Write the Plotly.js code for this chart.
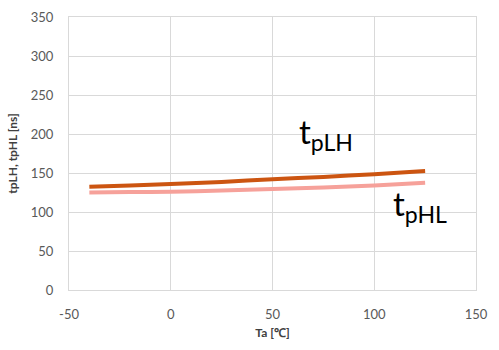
<!DOCTYPE html>
<html><head><meta charset="utf-8">
<script src="https://cdn.plot.ly/plotly-3.0.1.min.js"></script>
<style>html,body{margin:0;padding:0;background:#fff}#c{width:499px;height:350px}</style>
</head><body><div id="c"></div>
<script>
const temps = [-40, -20, 0, 25, 50, 75, 100, 125];
const tpLH = [132.5, 134, 136, 138.5, 142, 145, 148.5, 152.5];
const tpHL = [125, 125.5, 126, 127.5, 129.5, 131.5, 134, 137.5];
const xTicks = [-50, 0, 50, 100, 150];
const yTicks = [0, 50, 100, 150, 200, 250, 300, 350];
const font = "Lato, 'Open Sans', sans-serif";
const grid = '#d9d9d9';
const data = [
  {x: temps, y: tpHL, mode: 'lines', line: {color: '#F6A19A', width: 4, shape: 'spline', smoothing: 0.6}, name: 'tpHL'},
  {x: temps, y: tpLH, mode: 'lines', line: {color: '#CC5511', width: 4, shape: 'spline', smoothing: 0.6}, name: 'tpLH'}
];
const layout = {
  width: 499, height: 350,
  margin: {l: 69, r: 23, t: 17, b: 60},
  paper_bgcolor: '#fff', plot_bgcolor: '#fff',
  showlegend: false,
  font: {family: font, color: '#595959', size: 13},
  xaxis: {range: [-50, 150], tickvals: xTicks, ticktext: xTicks.map(String),
    showgrid: true, gridcolor: grid, gridwidth: 1, zeroline: false,
    showline: true, linecolor: grid, mirror: true, ticks: '', ticklabelstandoff: 12,
    tickfont: {family: font, size: 13, color: '#595959'},
    title: {text: '<b>Ta [℃]</b>', font: {family: font, size: 12, color: '#404040'}, standoff: 8}},
  yaxis: {range: [0, 350], tickvals: yTicks, ticktext: yTicks.map(String),
    showgrid: true, gridcolor: grid, gridwidth: 1, zeroline: false,
    showline: true, linecolor: grid, mirror: true, ticks: '', ticklabelstandoff: 12,
    tickfont: {family: font, size: 13, color: '#595959'},
    title: {text: '<b>tpLH, tpHL [ns]</b>', font: {family: font, size: 12, color: '#404040'}, standoff: 10}},
  annotations: [
    {x: 62, y: 201, xref: 'x', yref: 'y', xanchor: 'left', yanchor: 'middle', showarrow: false,
     text: 't<sub>pLH</sub>', font: {family: font, size: 33, color: '#000'}},
    {x: 108, y: 108, xref: 'x', yref: 'y', xanchor: 'left', yanchor: 'middle', showarrow: false,
     text: 't<sub>pHL</sub>', font: {family: font, size: 33, color: '#000'}}
  ]
};
Plotly.newPlot('c', data, layout, {displayModeBar: false, staticPlot: true});
</script></body></html>
